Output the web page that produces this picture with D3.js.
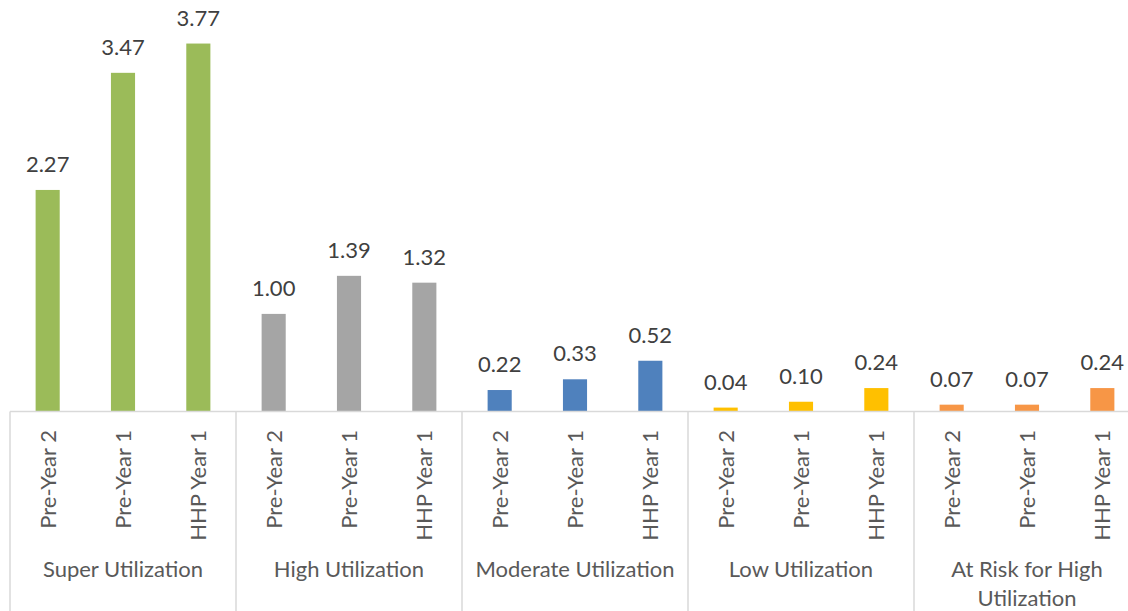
<!DOCTYPE html>
<html><head><meta charset="utf-8">
<script src="https://cdn.jsdelivr.net/npm/d3@7"></script>
<style>body{margin:0;background:#fff}svg{display:block}</style>
</head><body><svg id="c" width="1128" height="611"></svg>
<script>
const groups = ["Super Utilization","High Utilization","Moderate Utilization","Low Utilization","At Risk for High Utilization"];
const periods = ["Pre-Year 2","Pre-Year 1","HHP Year 1"];
const superVals = [2.27,3.47,3.77];
const highVals = [1.00,1.39,1.32];
const moderateVals = [0.22,0.33,0.52];
const lowVals = [0.04,0.10,0.24];
const atRiskVals = [0.07,0.07,0.24];
const groupColors = ["#9BBB59","#A5A5A5","#4F81BD","#FFC000","#F79646"];

const allVals = [superVals,highVals,moderateVals,lowVals,atRiskVals];
const data = [];
groups.forEach((g,gi)=>periods.forEach((p,pi)=>data.push({g,gi,p,v:allVals[gi][pi],key:gi+"|"+pi})));

const svg = d3.select("#c");
const font = "Lato, 'Open Sans', sans-serif";
const x0 = 10, x1 = 1140, yBase = 411.5;
const y = d3.scaleLinear().domain([0,4]).range([yBase, yBase-4*97.6]);
const xg = d3.scaleBand().domain(groups.map((g,i)=>i)).range([x0,x1]).padding(0);
const x = d3.scaleBand().domain(data.map(d=>d.key)).range([x0,x1]).paddingInner(0.68).paddingOuter(0.34);

svg.selectAll("rect.bar").data(data).join("rect").attr("class","bar")
  .attr("x",d=>x(d.key)).attr("width",x.bandwidth())
  .attr("y",d=>y(d.v)).attr("height",d=>yBase-y(d.v))
  .attr("fill",d=>groupColors[d.gi]);

svg.selectAll("text.val").data(data).join("text").attr("class","val")
  .attr("x",d=>x(d.key)+x.bandwidth()/2).attr("y",d=>y(d.v)-18)
  .attr("text-anchor","middle").attr("fill","#404040")
  .style("font-family",font).style("font-size","22px")
  .text(d=>d3.format(".2f")(d.v));

// axis line
svg.append("line").attr("x1",x0).attr("x2",x1).attr("y1",yBase).attr("y2",yBase)
  .attr("stroke","#D9D9D9").attr("stroke-width",1.5);
// group separators
const seps = groups.map((g,i)=>xg(i));
svg.selectAll("line.sep").data(seps).join("line").attr("class","sep")
  .attr("x1",d=>d).attr("x2",d=>d).attr("y1",yBase).attr("y2",611)
  .attr("stroke","#D9D9D9").attr("stroke-width",1.5);

// period labels rotated
svg.selectAll("text.per").data(data).join("text").attr("class","per")
  .attr("transform",d=>`translate(${x(d.key)+x.bandwidth()/2+8},430) rotate(-90)`)
  .attr("text-anchor","end").attr("fill","#595959")
  .style("font-family",font).style("font-size","22px")
  .text(d=>d.p);

// group labels
const glab = svg.selectAll("text.grp").data(groups).join("text").attr("class","grp")
  .attr("text-anchor","middle").attr("fill","#595959")
  .style("font-family",font).style("font-size","22px");
glab.each(function(g,i){
  const t = d3.select(this);
  const cx = xg(i)+xg.bandwidth()/2;
  const lines = g==="At Risk for High Utilization" ? ["At Risk for High","Utilization"] : [g];
  lines.forEach((l,li)=>t.append("tspan").attr("x",cx).attr("y",577+li*29).text(l));
});
</script></body></html>
